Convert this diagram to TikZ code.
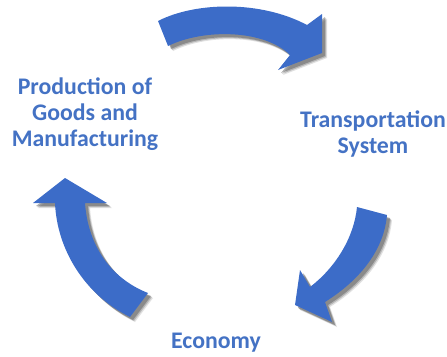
\documentclass[tikz,border=0pt]{standalone}
\usepackage{fontspec}
\setmainfont{Carlito}
\definecolor{txtblue}{RGB}{68,114,196}
\definecolor{arrblue}{RGB}{60,108,200}
\definecolor{shgray}{RGB}{85,85,85}
\tikzset{
  lbl/.style={text=txtblue, font=\bfseries\fontsize{23.8}{26.3}\selectfont, align=center, inner sep=0pt},
  arrowbody/.style={fill=arrblue},
  arrowshadow/.style={fill=shgray}
}
\begin{document}
\begin{tikzpicture}[x=1pt,y=-1pt]
\useasboundingbox (0,0) rectangle (447,356);
% shadows
\foreach \d/\o in {5/0.18,4/0.3,3/0.45} {
  \fill[arrowshadow, opacity=\o, shift={(\d,\d)}]
    (158,21) .. controls (195,2) and (260,0) .. (307,25) -- (322,14) -- (322,53)
    -- (278,70) -- (290,55) .. controls (265,30) and (205,28) .. (168,46) -- cycle;
  \fill[arrowshadow, opacity=\o, shift={(\d,\d)}]
    (357,207) -- (387,215) .. controls (384,250) and (360,280) .. (325,302)
    -- (332,322) -- (295,305) -- (300,270) -- (310,287)
    .. controls (335,268) and (354,238) .. (357,207) -- cycle;
  \fill[arrowshadow, opacity=\o, shift={(\d,\d)}]
    (65,178) -- (107,203) -- (85,203) .. controls (88,245) and (110,278) .. (148,293)
    -- (130,317) .. controls (85,295) and (57,250) .. (55,203) -- (33,203) -- cycle;
}
% arrows
\fill[arrowbody]
  (158,21) .. controls (195,2) and (260,0) .. (307,25) -- (322,14) -- (322,53)
  -- (278,70) -- (290,55) .. controls (265,30) and (205,28) .. (168,46) -- cycle;
\fill[arrowbody]
  (357,207) -- (387,215) .. controls (384,250) and (360,280) .. (325,302)
  -- (332,322) -- (295,305) -- (300,270) -- (310,287)
  .. controls (335,268) and (354,238) .. (357,207) -- cycle;
\fill[arrowbody]
  (65,178) -- (107,203) -- (85,203) .. controls (88,245) and (110,278) .. (148,293)
  -- (130,317) .. controls (85,295) and (57,250) .. (55,203) -- (33,203) -- cycle;
% labels
\node[lbl] (prod) at (85,114) {Production of\\Goods and\\Manufacturing};
\node[lbl] (trans) at (373,134) {Transportation\\System};
\node[lbl, anchor=base] (econ) at (216,348) {Economy};
\end{tikzpicture}
\end{document}
